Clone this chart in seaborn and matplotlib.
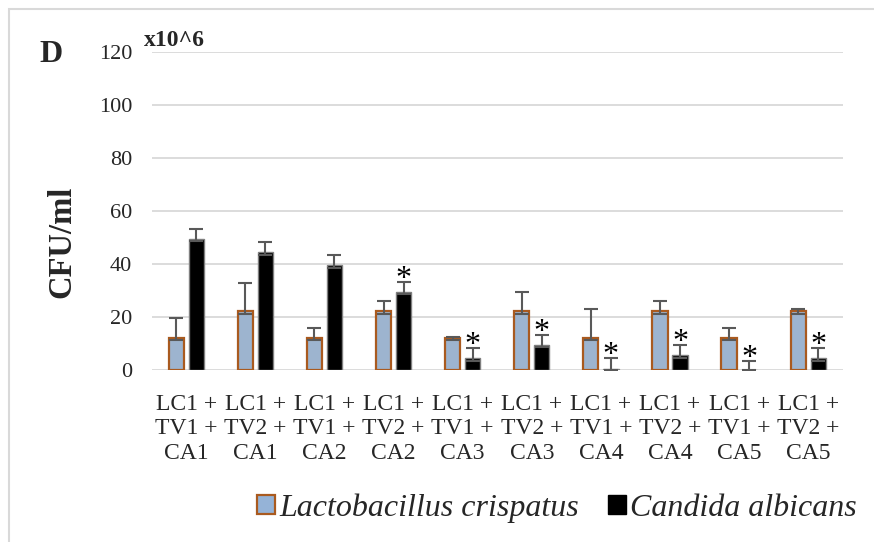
import numpy as np
import pandas as pd
import matplotlib
matplotlib.use("Agg")
import matplotlib.pyplot as plt
from matplotlib.patches import Rectangle, Patch
import seaborn as sns

# Treatment groups (x categories)
categories = ["LC1 +\nTV1 +\nCA1", "LC1 +\nTV2 +\nCA1", "LC1 +\nTV1 +\nCA2",
              "LC1 +\nTV2 +\nCA2", "LC1 +\nTV1 +\nCA3", "LC1 +\nTV2 +\nCA3",
              "LC1 +\nTV1 +\nCA4", "LC1 +\nTV2 +\nCA4", "LC1 +\nTV1 +\nCA5",
              "LC1 +\nTV2 +\nCA5"]
series = ["Lactobacillus crispatus", "Candida albicans"]

# CFU/ml (x10^6)
lc_values = [12.2, 22.2, 12.2, 22.2, 12.2, 22.2, 12.2, 22.2, 12.2, 22.2]
ca_values = [49.5, 44.5, 39.5, 29.5, 4.5, 9.5, 0.5, 5.5, 0.0, 4.5]
# standard deviations (upper)
lc_err = [7.3, 10.8, 3.8, 3.7, 0.3, 7.2, 10.8, 3.7, 3.8, 0.7]
ca_err = [3.7, 3.8, 3.9, 3.8, 3.9, 3.8, 3.9, 3.9, 3.4, 3.9]
# significance marks on Candida bars
ca_signif = [False, False, False, True, True, True, True, True, True, True]

yticks = [0, 20, 40, 60, 80, 100, 120]

df = pd.DataFrame({
    "group": categories * 2,
    "organism": [series[0]] * len(categories) + [series[1]] * len(categories),
    "cfu": lc_values + ca_values,
})

serif = ["Liberation Serif", "DejaVu Serif"]
sns.set_style("white")
plt.rcParams["font.family"] = serif

fig = plt.figure(figsize=(8.74, 5.42), dpi=100)
ax = fig.add_axes([0.1736, 0.3173, 0.7906, 0.5868])

lc_fill, lc_edge = "#95B3D7", "#A95A1F"
ca_fill, ca_edge = "#000000", "#7F7F7F"

sns.barplot(data=df, x="group", y="cfu", hue="organism", order=categories,
            hue_order=series, palette=[lc_fill, ca_fill], width=0.58, gap=0.24,
            errorbar=None, ax=ax, legend=False, zorder=3)

for bar in ax.containers[0]:
    bar.set_edgecolor(lc_edge)
    bar.set_linewidth(1.6)
for bar in ax.containers[1]:
    bar.set_edgecolor(ca_edge)
    bar.set_linewidth(1.0)

err_color = "#595959"
for cont, vals, errs in [(ax.containers[0], lc_values, lc_err),
                         (ax.containers[1], ca_values, ca_err)]:
    xs = [b.get_x() + b.get_width() / 2 for b in cont]
    low = [min(1.0, v) for v in vals]
    ax.errorbar(xs, vals, yerr=[low, errs], fmt="none", ecolor=err_color,
                elinewidth=1.5, capsize=4.8, capthick=1.5, zorder=4)
    if cont is ax.containers[1]:
        for x, v, e, s in zip(xs, vals, errs, ca_signif):
            if s:
                ax.annotate("*", (x, v + e), xytext=(0, -8.5), textcoords="offset points",
                            ha="center", va="bottom", fontsize=23, color="black",
                            family=serif, zorder=5)

ax.set_ylim(0, 120)
ax.set_xlim(-0.5, len(categories) - 0.5)
ax.set_yticks(yticks)
ax.yaxis.grid(True, color="#D9D9D9", linewidth=1.3, zorder=0)
ax.set_axisbelow(True)
for sp in ax.spines.values():
    sp.set_visible(False)
ax.tick_params(axis="both", length=0)
ax.tick_params(axis="y", pad=14, labelsize=16)
ax.tick_params(axis="x", pad=17, labelsize=17)
for t in ax.get_xticklabels():
    t.set_linespacing(1.24)
    t.set_family(serif)
for t in ax.get_yticklabels():
    t.set_family(serif)
ax.set_xlabel("")
ax.set_ylabel("CFU/ml", fontsize=23.5, fontweight="bold", family=serif)
ax.yaxis.set_label_coords(-0.108, 0.4025)

fig.text(51 / 874, 1 - 55 / 542, "D", fontsize=23, fontweight="bold",
         ha="center", va="center", family=serif)
fig.text(144 / 874, 1 - 40 / 542, "x10^6", fontsize=17, fontweight="bold",
         ha="left", va="center", family=serif)

handles = [Patch(facecolor=lc_fill, edgecolor=lc_edge, linewidth=1.6),
           Patch(facecolor=ca_fill, edgecolor=ca_fill, linewidth=1.0)]
leg = fig.legend(handles, series, loc="center", bbox_to_anchor=(0.6375, 0.0630),
                 ncol=2, frameon=False, handlelength=0.55, handleheight=0.55,
                 handletextpad=0.15, columnspacing=0.9,
                 prop={"family": serif, "style": "italic", "size": 23})

# outer chart frame
fig.add_artist(Rectangle((9 / 874, -0.1), 1.2, 0.9834 + 0.1,
                         transform=fig.transFigure, fill=False,
                         edgecolor="#D9D9D9", linewidth=1.5))

fig.savefig("out.png", dpi=100)
